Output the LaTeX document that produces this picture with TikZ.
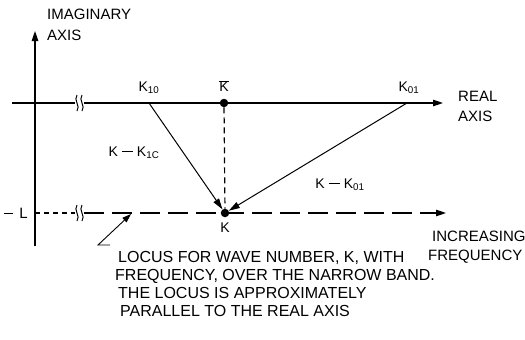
\documentclass[tikz,border=0pt]{standalone}
\usepackage{fontspec}
\setmainfont{Liberation Sans}
\usetikzlibrary{arrows.meta}
\newcommand{\longminus}[1]{\rule[4.2pt]{#1}{1pt}}
\begin{document}
\begin{tikzpicture}[x=1pt,y=-1pt,
  lbl/.style={font=\fontsize{15}{18}\selectfont, inner sep=0pt},
  biglbl/.style={font=\fontsize{16}{18}\selectfont, inner sep=0pt},
  klbl/.style={font=\fontsize{14}{16}\selectfont, inner sep=0pt},
  axisline/.style={line width=1.1pt},
  tip/.style={-{Triangle[length=10pt,width=6.5pt]}},
  dot/.style={circle, fill=black, inner sep=0pt, minimum size=8.5pt},
  brk/.style={line width=1pt},
  vec/.style={line width=1pt, -{Triangle[length=11pt,width=6.5pt]}}]
\useasboundingbox (0,0) rectangle (525,340);
% imaginary axis
\coordinate (vbot) at (35,246);
\coordinate (vtop) at (35,31);
\draw[axisline,tip] (vbot) -- (vtop);
\node[lbl, anchor=west] (imag) at (47,14) {IMAGINARY};
\node[lbl, anchor=west] (imagaxis) at (47,35) {AXIS};
% real axis
\coordinate (rstart) at (12,103);
\coordinate (rbrkL) at (75,103);
\coordinate (rbrkR) at (84,103);
\coordinate (rend) at (443,103);
\draw[axisline] (rstart) -- (rbrkL);
\draw[axisline,tip] (rbrkR) -- (rend);
\draw[brk] (77,95) .. controls (73,100) and (81,106) .. (77,111);
\draw[brk] (82,95) .. controls (78,100) and (86,106) .. (82,111);
\node[lbl, anchor=west] (real) at (458,96) {REAL};
\node[lbl, anchor=west] (realaxis) at (458,116) {AXIS};
% points on real axis
\node[dot] (kbar) at (224,103) {};
\node[klbl] (kbarl) at (224,86) {$\overline{\hbox{K}}$};
\coordinate (k10) at (149,103);
\node[klbl] (k10l) at (149,88) {K\textsubscript{10}};
\coordinate (k01) at (407,103);
\node[klbl] (k01l) at (409,88) {K\textsubscript{01}};
% lower locus line
\coordinate (lstart) at (35,213);
\coordinate (lbrkL) at (75,213);
\coordinate (lbrkR) at (84,213);
\coordinate (lend) at (446,213);
\draw[axisline, dash pattern=on 5pt off 4pt] (lstart) -- (lbrkL);
\draw[axisline, dash pattern=on 20pt off 8pt, tip] (lbrkR) -- (lend);
\draw[brk] (77,205) .. controls (73,210) and (81,216) .. (77,221);
\draw[brk] (82,205) .. controls (78,210) and (86,216) .. (82,221);
\node[lbl, anchor=east] (negl) at (28,213) {\longminus{9pt}\hspace{6pt}L};
% K point
\node[dot] (k) at (225,213) {};
\node[klbl] (kl) at (225,228) {K};
% vectors
\draw[line width=1.2pt, dash pattern=on 6pt off 4pt] (kbar) -- (k);
\draw[vec] (k10) -- (k);
\draw[vec] (k01) -- (k);
\node[klbl] (d1) at (134,153) {K\hspace{4pt}\longminus{11pt}\hspace{4pt}K\textsubscript{1C}};
\node[klbl] (d2) at (340,185) {K\hspace{4pt}\longminus{11pt}\hspace{4pt}K\textsubscript{01}};
% leader
\coordinate (leadfoot) at (110,245);
\coordinate (leadcorner) at (98,245);
\coordinate (leadtip) at (131,214);
\draw[line width=0.9pt, -{Triangle[length=9pt,width=6pt]}] (leadfoot) -- (leadcorner) -- (leadtip);
\node[biglbl, anchor=north west, align=left] (locus) at (115,251) {\hspace*{3pt}LOCUS FOR WAVE NUMBER, K, WITH\\FREQUENCY, OVER THE NARROW BAND.\\\hspace*{3pt}THE LOCUS IS APPROXIMATELY\\\hspace*{5pt}PARALLEL TO THE REAL AXIS};
\node[lbl, anchor=west] (incr) at (432,236) {INCREASING};
\node[lbl, anchor=west] (freq) at (428,257) {FREQUENCY};
\end{tikzpicture}
\end{document}
